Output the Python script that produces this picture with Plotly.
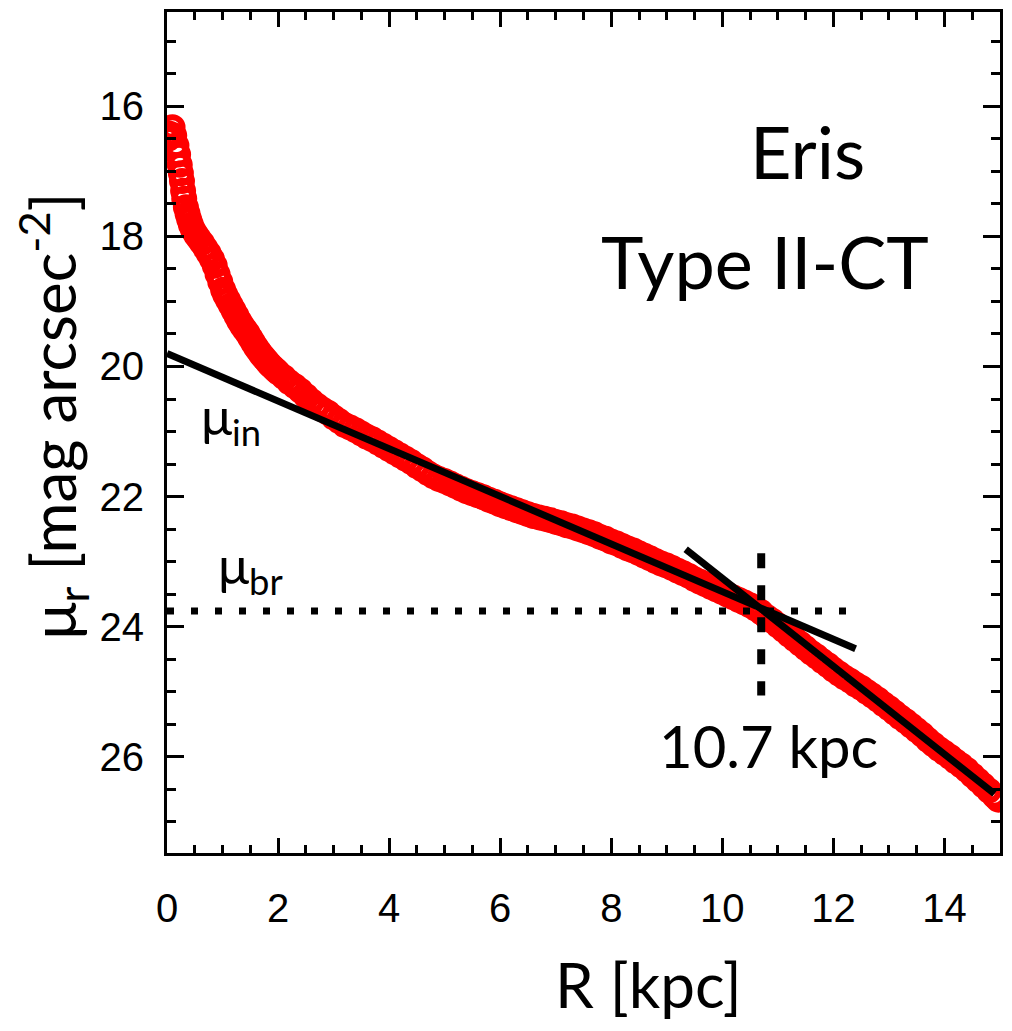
import plotly.graph_objects as go

# Surface-brightness profile
R = [0.02, 0.05, 0.1, 0.13, 0.17, 0.2, 0.23, 0.25, 0.27, 0.29, 0.31, 0.34, 0.37, 0.40, 0.43, 0.47,
     0.52, 0.57, 0.63, 0.69, 0.75, 0.81, 0.86, 0.91, 0.96, 1.01, 1.05, 1.1, 1.15, 1.2, 1.25, 1.3,
     1.35, 1.4, 1.45, 1.5, 1.55, 1.6, 1.65, 1.7, 1.75, 1.8, 1.85, 1.9, 1.95, 2.0, 2.1, 2.2, 2.3,
     2.4, 2.5, 2.6, 2.7, 2.8, 2.9, 3.0, 3.1, 3.2, 3.3, 3.4, 3.5, 3.6, 3.7, 3.8, 3.9, 4.0, 4.1,
     4.2, 4.3, 4.4, 4.5, 4.6, 4.7, 4.8, 4.9, 5.0, 5.1, 5.2, 5.3, 5.4, 5.5, 5.6, 5.7, 5.8, 5.9,
     6.0, 6.1, 6.2, 6.3, 6.4, 6.5, 6.6, 6.7, 6.8, 6.9, 7.0, 7.1, 7.2, 7.3, 7.4, 7.5, 7.6, 7.7,
     7.8, 7.9, 8.0, 8.1, 8.2, 8.3, 8.4, 8.5, 8.6, 8.7, 8.8, 8.9, 9.0, 9.1, 9.2, 9.3, 9.4, 9.5,
     9.6, 9.7, 9.8, 9.9, 10.0, 10.1, 10.2, 10.3, 10.4, 10.5, 10.6, 10.7, 10.8, 10.9, 11.0, 11.1,
     11.2, 11.3, 11.4, 11.5, 11.6, 11.7, 11.8, 11.9, 12.0, 12.1, 12.2, 12.3, 12.4, 12.5, 12.6,
     12.7, 12.8, 12.9, 13.0, 13.1, 13.2, 13.3, 13.4, 13.5, 13.6, 13.7, 13.8, 13.9, 14.0, 14.1,
     14.2, 14.3, 14.4, 14.5, 14.6, 14.7, 14.8, 14.9, 14.97]
MU = [16.5, 16.42, 16.32, 16.45, 16.6, 16.74, 16.9, 17.03, 17.15, 17.3, 17.42, 17.55, 17.65, 17.74,
      17.82, 17.9, 17.97, 18.03, 18.1, 18.18, 18.26, 18.35, 18.45, 18.58, 18.7, 18.82, 18.9, 18.98,
      19.06, 19.14, 19.22, 19.3, 19.37, 19.43, 19.49, 19.56, 19.63, 19.7, 19.76, 19.82, 19.87,
      19.92, 19.97, 20.01, 20.05, 20.09, 20.16, 20.24, 20.3, 20.37, 20.45, 20.53, 20.6, 20.66,
      20.71, 20.78, 20.84, 20.9, 20.94, 20.98, 21.03, 21.08, 21.12, 21.17, 21.22, 21.27, 21.32,
      21.37, 21.42, 21.47, 21.53, 21.58, 21.64, 21.69, 21.73, 21.76, 21.8, 21.84, 21.88, 21.92,
      21.95, 21.98, 22.01, 22.05, 22.08, 22.12, 22.15, 22.18, 22.21, 22.24, 22.27, 22.3, 22.32,
      22.34, 22.36, 22.39, 22.41, 22.44, 22.46, 22.49, 22.52, 22.55, 22.58, 22.62, 22.65, 22.69,
      22.72, 22.76, 22.8, 22.83, 22.87, 22.91, 22.95, 22.99, 23.03, 23.06, 23.1, 23.14, 23.18,
      23.22, 23.27, 23.31, 23.35, 23.39, 23.43, 23.47, 23.51, 23.55, 23.59, 23.63, 23.67, 23.72,
      23.78, 23.85, 23.91, 23.98, 24.05, 24.12, 24.19, 24.26, 24.33, 24.4, 24.46, 24.53, 24.59,
      24.66, 24.72, 24.78, 24.83, 24.89, 24.94, 25.0, 25.06, 25.12, 25.19, 25.25, 25.32, 25.39,
      25.45, 25.52, 25.59, 25.66, 25.74, 25.81, 25.88, 25.94, 26.0, 26.07, 26.13, 26.2, 26.28,
      26.36, 26.44, 26.52, 26.6, 26.66]

# Fitted lines
INNER_R = [0.0, 12.4]
INNER_MU = [19.8, 24.34]
OUTER_R = [9.34, 14.9]
OUTER_MU = [22.81, 26.57]
BREAK_R = 10.7
BREAK_MU = 23.76
BREAK_MU_SPAN = [22.87, 25.06]
DOTTED_R = [0.0, 12.25]

X_TICKS = [0, 2, 4, 6, 8, 10, 12, 14]
Y_TICKS = [16, 18, 20, 22, 24, 26]

fig = go.Figure()
fig.add_trace(go.Scatter(x=R, y=MU, mode="markers",
                         marker=dict(symbol="circle-open", size=20, color="#ff0000",
                                     line=dict(width=6, color="#ff0000")),
                         showlegend=False))
fig.add_trace(go.Scatter(x=DOTTED_R, y=[BREAK_MU, BREAK_MU], mode="lines",
                         line=dict(color="black", width=7, dash="7px,17px"), showlegend=False))
fig.add_trace(go.Scatter(x=INNER_R, y=INNER_MU, mode="lines",
                         line=dict(color="black", width=7), showlegend=False))
fig.add_trace(go.Scatter(x=OUTER_R, y=OUTER_MU, mode="lines",
                         line=dict(color="black", width=7), showlegend=False))
fig.add_trace(go.Scatter(x=[BREAK_R, BREAK_R], y=BREAK_MU_SPAN, mode="lines",
                         line=dict(color="black", width=8, dash="15px,17px"), showlegend=False))

TXT = "Lato, 'Open Sans', sans-serif"
TICKF = dict(family="Liberation Sans, Arial, sans-serif", size=40, color="black")

axis_common = dict(showline=True, linecolor="black", linewidth=3, mirror="ticks",
                   ticks="inside", tickcolor="black", tickwidth=3, showgrid=False,
                   zeroline=False, tickfont=TICKF)

fig.update_xaxes(range=[0, 15], tickvals=X_TICKS, ticklen=15, ticklabelstandoff=18,
                 minor=dict(dtick=0.5, ticks="inside", ticklen=8, tickwidth=3, tickcolor="black",
                            showgrid=False),
                 **axis_common)
fig.update_yaxes(range=[27.48, 14.55], tickvals=Y_TICKS, ticklen=17, ticklabelstandoff=12,
                 minor=dict(dtick=0.5, ticks="inside", ticklen=9, tickwidth=3, tickcolor="black",
                            showgrid=False),
                 **axis_common)

ann = [
    dict(x=11.54, y=16.69, text="Eris", size=72),
    dict(x=10.77, y=18.38, text="Type II-CT", size=72),
    dict(x=10.84, y=25.82, text="10.7 kpc", size=58),
    dict(x=1.15, y=20.8, text="μ<sub>in</sub>", size=52),
    dict(x=1.5, y=23.1, text="μ<sub>br</sub>", size=52),
]
for a in ann:
    fig.add_annotation(x=a["x"], y=a["y"], xref="x", yref="y", text=a["text"], showarrow=False,
                       xanchor="center", yanchor="middle",
                       font=dict(family=TXT, size=a["size"], color="black"))

fig.add_annotation(x=0.578, y=-0.156, xref="paper", yref="paper", text="R [kpc]",
                   showarrow=False, xanchor="center", yanchor="middle",
                   font=dict(family=TXT, size=62, color="black"))
fig.add_annotation(x=-0.137, y=0.52, xref="paper", yref="paper",
                   text="μ<sub>r</sub> [mag arcsec<sup>-2</sup>]", textangle=-90,
                   showarrow=False, xanchor="center", yanchor="middle",
                   font=dict(family=TXT, size=62, color="black"))

fig.update_layout(width=1012, height=1031, margin=dict(l=167, r=9, t=9, b=178),
                  plot_bgcolor="white", paper_bgcolor="white")

fig.write_html("out.html")
